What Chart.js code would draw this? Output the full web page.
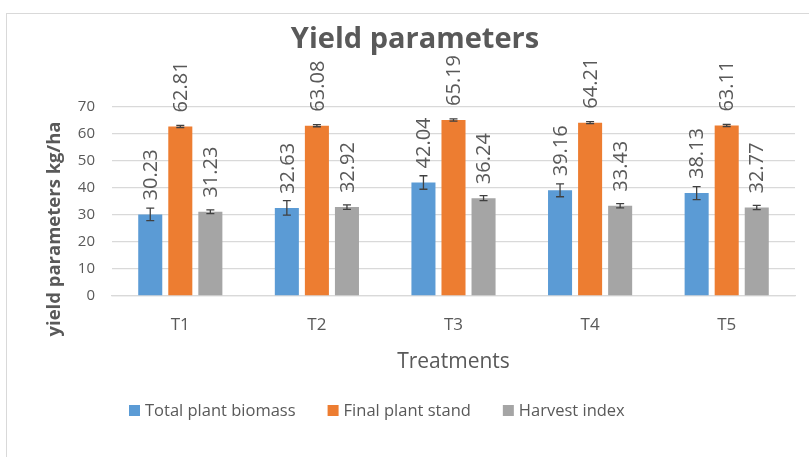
<!DOCTYPE html>
<html>
<head>
<meta charset="utf-8">
<script src="https://cdn.jsdelivr.net/npm/chart.js@4"></script>
<style>
  html, body { margin: 0; padding: 0; background: #fff; }
  #wrap { width: 809px; height: 457px; position: relative; }
</style>
</head>
<body>
<div id="wrap"><canvas id="chartYield"></canvas></div>
<script>
// data
const treatments = ['T1', 'T2', 'T3', 'T4', 'T5'];
const seriesNames = ['Total plant biomass', 'Final plant stand', 'Harvest index'];
const biomass = [30.23, 32.63, 42.04, 39.16, 38.13];
const plantStand = [62.81, 63.08, 65.19, 64.21, 63.11];
const harvestIndex = [31.23, 32.92, 36.24, 33.43, 32.77];
const biomassErr = [2.3, 2.7, 2.5, 2.4, 2.4];
const standErr = [0.4, 0.4, 0.4, 0.4, 0.4];
const harvestErr = [0.7, 0.8, 0.9, 0.8, 0.8];
const yTicks = [0, 10, 20, 30, 40, 50, 60, 70];

const textColor = '#595959';
const font = '"Open Sans", sans-serif';

// frame, title, y title and legend drawn by hand so they sit where Excel put them
const framePlugin = {
  id: 'frame',
  beforeDraw(chart) {
    const ctx = chart.ctx;
    ctx.save();
    ctx.strokeStyle = '#d9d9d9';
    ctx.lineWidth = 1;
    ctx.strokeRect(6.5, 13.5, 900, 600);

    ctx.fillStyle = textColor;
    ctx.textBaseline = 'middle';
    ctx.textAlign = 'center';
    ctx.font = 'bold 29px ' + font;
    ctx.fillText('Yield parameters', 415, 40);

    // legend
    ctx.font = '16.5px ' + font;
    ctx.textAlign = 'left';
    let x = 129;
    chart.data.datasets.forEach(ds => {
      ctx.fillStyle = ds.backgroundColor;
      ctx.fillRect(x, 405, 11, 11);
      ctx.fillStyle = textColor;
      ctx.fillText(ds.label, x + 16, 411);
      x += 16 + ctx.measureText(ds.label).width + 32;
    });

    ctx.translate(55, 229);
    ctx.rotate(-Math.PI / 2);
    ctx.font = 'bold 18.5px ' + font;
    ctx.textAlign = 'center';
    ctx.fillText('yield parameters kg/ha', 0, 0);
    ctx.restore();
  }
};

// error bars + rotated value labels
const errorLabelPlugin = {
  id: 'errorLabels',
  afterDatasetsDraw(chart) {
    const ctx = chart.ctx;
    const y = chart.scales.y;
    chart.data.datasets.forEach((ds, i) => {
      const meta = chart.getDatasetMeta(i);
      meta.data.forEach((bar, j) => {
        const v = ds.data[j];
        const e = ds.errors[j];
        const top = y.getPixelForValue(v + e);
        const bot = y.getPixelForValue(v - e);
        ctx.save();
        ctx.strokeStyle = '#404040';
        ctx.lineWidth = 1.3;
        ctx.beginPath();
        ctx.moveTo(bar.x, top); ctx.lineTo(bar.x, bot);
        ctx.moveTo(bar.x - 4, top); ctx.lineTo(bar.x + 4, top);
        ctx.moveTo(bar.x - 4, bot); ctx.lineTo(bar.x + 4, bot);
        ctx.stroke();
        // value label, a fixed distance above the bar top
        ctx.translate(bar.x, bar.y - 14);
        ctx.rotate(-Math.PI / 2);
        ctx.fillStyle = textColor;
        ctx.font = '20px ' + font;
        ctx.textAlign = 'left';
        ctx.textBaseline = 'middle';
        ctx.fillText(v.toFixed(2), 0, 1);
        ctx.restore();
      });
    });
  }
};

new Chart(document.getElementById('chartYield'), {
  type: 'bar',
  data: {
    labels: treatments,
    datasets: [
      { label: seriesNames[0], data: biomass, errors: biomassErr, backgroundColor: '#5b9bd5' },
      { label: seriesNames[1], data: plantStand, errors: standErr, backgroundColor: '#ed7d31' },
      { label: seriesNames[2], data: harvestIndex, errors: harvestErr, backgroundColor: '#a5a5a5' }
    ]
  },
  options: {
    responsive: true,
    maintainAspectRatio: false,
    animation: false,
    categoryPercentage: 0.66,
    barPercentage: 0.8,
    layout: { padding: { left: 78, right: 14, top: 107, bottom: 82 } },
    plugins: {
      title: { display: false },
      legend: { display: false },
      tooltip: { enabled: false }
    },
    scales: {
      x: {
        afterFit(axis) { axis.height = 79; },
        grid: { display: false, drawTicks: false },
        border: { color: '#d9d9d9', width: 1.3 },
        ticks: { color: textColor, font: { family: font, size: 17 }, padding: 19 },
        title: { display: true, text: 'Treatments', color: textColor, font: { family: font, size: 21 }, padding: { top: 11, bottom: 0 } }
      },
      y: {
        min: 0,
        max: 70,
        afterFit(axis) { axis.width = 34; },
        afterBuildTicks(axis) { axis.ticks = yTicks.map(v => ({ value: v })); },
        grid: { color: '#d9d9d9', lineWidth: 1.3, drawTicks: false },
        border: { display: false },
        ticks: { color: textColor, font: { family: font, size: 15 }, padding: 17 }
      }
    }
  },
  plugins: [framePlugin, errorLabelPlugin]
});
</script>
</body>
</html>
